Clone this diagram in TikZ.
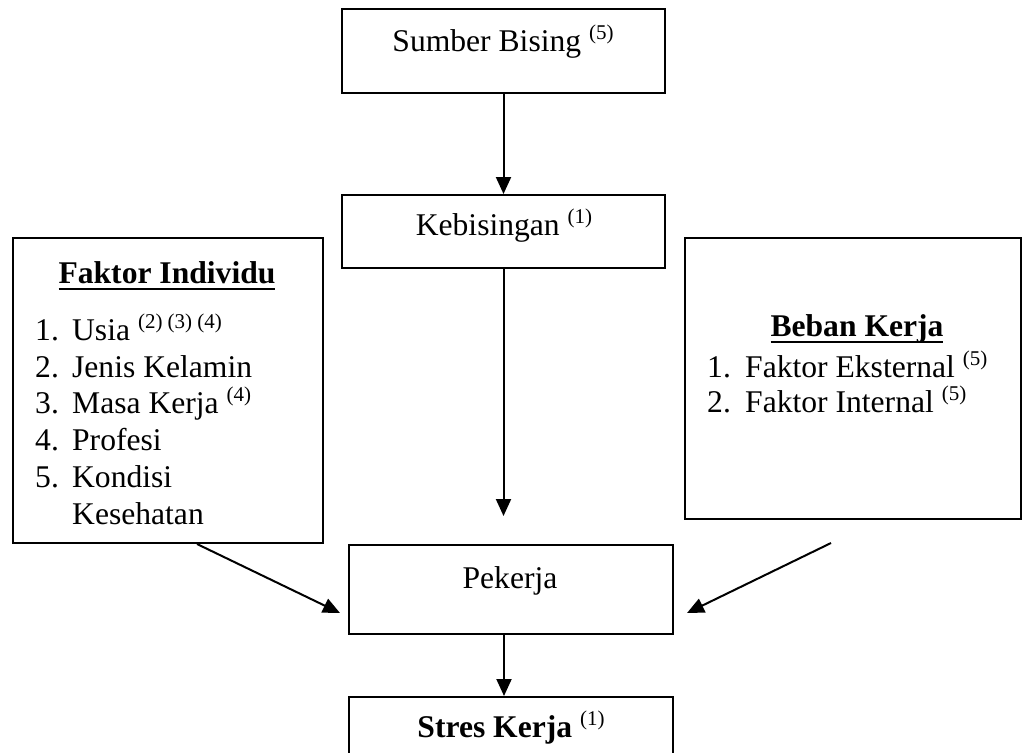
\documentclass[tikz,border=0pt]{standalone}
\usepackage{fontspec}
\setmainfont{Liberation Serif}
\usetikzlibrary{arrows.meta}
\newcommand\supx[1]{\raisebox{12pt}{\fontsize{21}{21}\selectfont #1}}
\newcommand\myul[1]{\setbox0\hbox{#1}\rlap{\rule[-7pt]{\wd0}{2pt}}\box0}
\tikzset{
 box/.style={draw, line width=2pt, inner sep=0pt, fill=none},
 txt/.style={inner sep=0pt, font=\fontsize{31.6}{36}\selectfont},
 arr/.style={line width=2pt, -{Triangle[length=17pt,width=15pt]}},
}
\begin{document}
\begin{tikzpicture}[x=1pt,y=-1pt]
\useasboundingbox (0,0) rectangle (1024,752);
\clip (0,0) rectangle (1024,752);
% boxes
\node[box, minimum width=323pt, minimum height=84pt] (sumber) at (503.5,51) {};
\node[box, minimum width=323pt, minimum height=73pt] (keb) at (503.5,231.5) {};
\node[box, minimum width=310pt, minimum height=305pt] (fi) at (168,390.5) {};
\node[box, minimum width=336pt, minimum height=281pt] (bk) at (853,378.5) {};
\node[box, minimum width=324pt, minimum height=89pt] (pek) at (511,589.5) {};
\node[box, minimum width=324pt, minimum height=103pt] (stres) at (511,748.5) {};
% texts
\node[txt, anchor=base] (tsumber) at (503,52) {Sumber Bising \supx{(5)}};
\node[txt, anchor=base] (tkeb) at (504,235) {Kebisingan \supx{(1)}};
\node[txt, anchor=base] (tfi) at (167,283) {\bfseries\myul{Faktor Individu}};
\node[txt, anchor=base west] (fi1) at (35,340) {\makebox[37pt][l]{1.}Usia \supx{(2) (3) (4)}};
\node[txt, anchor=base west] (fi2) at (35,377) {\makebox[37pt][l]{2.}Jenis Kelamin};
\node[txt, anchor=base west] (fi3) at (35,413) {\makebox[37pt][l]{3.}Masa Kerja \supx{(4)}};
\node[txt, anchor=base west] (fi4) at (35,450) {\makebox[37pt][l]{4.}Profesi};
\node[txt, anchor=base west] (fi5) at (35,487) {\makebox[37pt][l]{5.}Kondisi};
\node[txt, anchor=base west] (fi6) at (72,524) {Kesehatan};
\node[txt, anchor=base] (tbk) at (857,336) {\bfseries\myul{Beban Kerja}};
\node[txt, anchor=base west] (bk1) at (707,377) {\makebox[38pt][l]{1.}Faktor Eksternal \supx{(5)}};
\node[txt, anchor=base west] (bk2) at (707,412) {\makebox[38pt][l]{2.}Faktor Internal \supx{(5)}};
\node[txt, anchor=base] (tpek) at (510,588) {Pekerja};
\node[txt, anchor=base] (tstres) at (511,737) {\textbf{Stres Kerja} \supx{(1)}};
% free ends
\coordinate (pekin) at (503.5,516);
\coordinate (lend) at (340,613);
\coordinate (rstart) at (831,543);
\coordinate (rend) at (687,613);
% arrows
\draw[arr] (sumber.south) -- (keb.north);
\draw[arr] (keb.south) -- (pekin);
\draw[arr] ([xshift=29pt]fi.south) -- (lend);
\draw[arr] (rstart) -- (rend);
\draw[arr] ([xshift=-7pt]pek.south) -- ([xshift=-7pt]stres.north);
\end{tikzpicture}
\end{document}
